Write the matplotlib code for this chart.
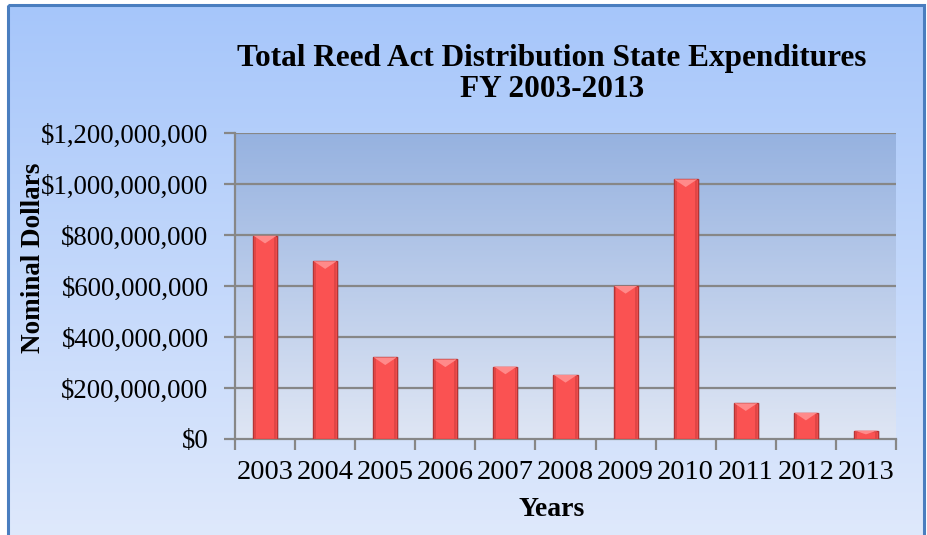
import numpy as np
import matplotlib
matplotlib.use("Agg")
import matplotlib.pyplot as plt
from matplotlib.colors import LinearSegmentedColormap
from matplotlib.patches import Rectangle, Polygon

# data
years = ["2003", "2004", "2005", "2006", "2007", "2008",
         "2009", "2010", "2011", "2012", "2013"]
spending = [797e6, 697e6, 320e6, 312e6, 284e6, 251e6,
            600e6, 1018e6, 140e6, 103e6, 33e6]
y_ticks = [0, 200e6, 400e6, 600e6, 800e6, 1000e6, 1200e6]
y_labels = ["$0", "$200,000,000", "$400,000,000", "$600,000,000",
            "$800,000,000", "$1,000,000,000", "$1,200,000,000"]

title = "Total Reed Act Distribution State Expenditures\nFY 2003-2013"

plt.rcParams["font.family"] = ["Liberation Serif", "DejaVu Serif"]

W, H = 928, 535
fig = plt.figure(figsize=(W / 100, H / 100), dpi=100)
fig.patch.set_facecolor("white")

# chart-area background: vertical blue gradient inside a blue frame
bg = fig.add_axes([0, 0, 1, 1], zorder=-5)
bg.set_xlim(0, W)
bg.set_ylim(H, 0)
bg.axis("off")
bg_cmap = LinearSegmentedColormap.from_list("bg", ["#a6c6fa", "#dfe9fc"])
grad = np.linspace(0, 1, 256).reshape(-1, 1)
bg.imshow(grad, cmap=bg_cmap, extent=[8, 924, 540, 5], aspect="auto", zorder=0)
bg.add_patch(Rectangle((8, 5), 916, 540, fill=False, ec="#4a7ebf", lw=2.2, zorder=1))

# main plot area
ax = fig.add_axes([235 / W, 1 - 439 / H, (896 - 235) / W, (439 - 133) / H])
x = np.arange(len(years))
ax.set_xlim(-0.5, len(years) - 0.5)
ax.set_ylim(0, 1200e6)

plot_cmap = LinearSegmentedColormap.from_list("plot", ["#96b2e0", "#dfe6f4"])
ax.imshow(grad, cmap=plot_cmap, extent=[-0.5, len(years) - 0.5, 0, 1200e6],
          aspect="auto", zorder=0)

for yv in y_ticks[1:]:
    ax.axhline(yv, color="#878787", lw=1.6, zorder=1)

bw = 0.4
# soft shadow, then the bars
ax.bar(x + 0.03, spending, width=bw, color="#5a6a8a", alpha=0.18, zorder=2)
ax.bar(x, spending, width=bw, color="#fa5252", edgecolor="#b53434", lw=1.0, zorder=3)
ax.bar(x - bw * 0.42, spending, width=bw * 0.08, color="#e04646", lw=0, zorder=3.5)
ax.bar(x + bw * 0.42, spending, width=bw * 0.08, color="#e04646", lw=0, zorder=3.5)

# bevel highlight on top of each bar
for xi, v in zip(x, spending):
    d = min(30e6, 0.45 * v)
    tri = Polygon([(xi - bw / 2 + 0.01, v), (xi + bw / 2 - 0.01, v), (xi, v - d)],
                  closed=True, fc="#ff8a8a", ec="none", zorder=4)
    ax.add_patch(tri)

for s in ["top", "right"]:
    ax.spines[s].set_visible(False)
for s in ["left", "bottom"]:
    ax.spines[s].set_color("#878787")
    ax.spines[s].set_linewidth(1.6)

ax.set_yticks(y_ticks)
ax.set_yticklabels(y_labels, fontsize=19.3)
ax.tick_params(axis="y", length=8, width=1.6, color="#878787", pad=11)
ax.set_xticks(x)
ax.set_xticklabels(years, fontsize=20.5)
ax.set_xticks(np.arange(-0.5, len(years)), minor=True)
ax.tick_params(axis="x", which="major", length=0, pad=15)
ax.tick_params(axis="x", which="minor", length=8, width=1.6, color="#878787")

fig.text(552 / W, 1 - 74 / H, title, ha="center", va="center",
         fontsize=22.5, fontweight="bold", linespacing=1.12)
fig.text(552 / W, 1 - 510 / H, "Years", ha="center", va="center",
         fontsize=20, fontweight="bold")
fig.text(34 / W, 1 - 258 / H, "Nominal Dollars", ha="center", va="center",
         rotation=90, fontsize=19.5, fontweight="bold")

fig.savefig("out.png", dpi=100)
